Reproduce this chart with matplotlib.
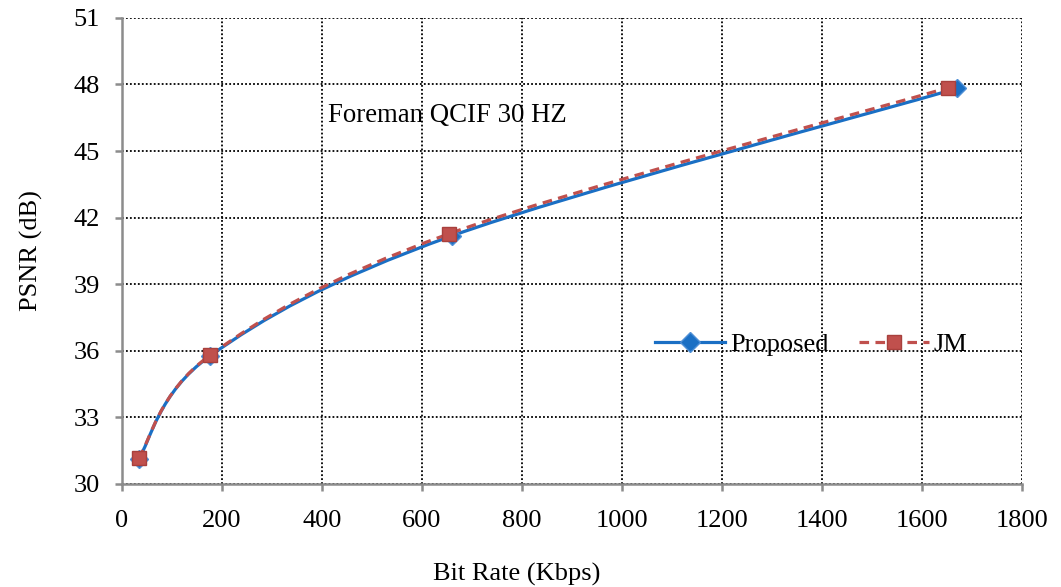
import matplotlib
matplotlib.use("Agg")
import matplotlib.pyplot as plt
from matplotlib.path import Path
from matplotlib.patches import PathPatch
from matplotlib.lines import Line2D
import numpy as np

plt.rcParams['font.family'] = ['Liberation Serif', 'DejaVu Serif']

# Data
proposed_rate = [33, 176, 660, 1670]
proposed_psnr = [31.12, 35.77, 41.18, 47.82]
jm_rate = [33, 176, 655, 1652]
jm_psnr = [31.15, 35.80, 41.28, 47.85]

xticks = [0, 200, 400, 600, 800, 1000, 1200, 1400, 1600, 1800]
yticks = [30, 33, 36, 39, 42, 45, 48, 51]
title_text = "Foreman QCIF 30 HZ"
xlabel = "Bit Rate (Kbps)"
ylabel = "PSNR (dB)"

BLUE = "#1A6FC4"
RED = "#C0504D"
FS = 19


def smooth_path(xs, ys):
    """Excel-style smoothed line as cubic Bezier path (library draws curve)."""
    P = np.column_stack([xs, ys]).astype(float)
    n = len(P)
    verts = [P[0]]
    codes = [Path.MOVETO]
    for i in range(n - 1):
        p0 = P[i - 1] if i > 0 else P[i]
        p1 = P[i]
        p2 = P[i + 1]
        p3 = P[i + 2] if i + 2 < n else P[i + 1]
        c1 = p1 + (p2 - p0) / 6.0
        c2 = p2 - (p3 - p1) / 6.0
        verts += [c1, c2, p2]
        codes += [Path.CURVE4] * 3
    return Path(verts, codes)


fig = plt.figure(figsize=(10.61, 5.87), dpi=100)
ax = fig.add_axes([0.115, 0.1755, 0.848, 0.794])

ax.set_xlim(0, 1800)
ax.set_ylim(30, 51)
ax.set_xticks(xticks)
ax.set_yticks(yticks)

ax.grid(True, color="black", linestyle=(0, (1, 1.2)), linewidth=1.3)
ax.set_axisbelow(True)

for s in ["top", "right"]:
    ax.spines[s].set_visible(False)
for s in ["left", "bottom"]:
    ax.spines[s].set_color("#8C8C8C")
    ax.spines[s].set_linewidth(1.8)

ax.tick_params(axis="both", direction="out", length=5, width=1.8,
               color="#8C8C8C", labelsize=FS)
ax.tick_params(axis="y", pad=11)
ax.tick_params(axis="x", pad=14)

# Proposed line
pp = PathPatch(smooth_path(proposed_rate, proposed_psnr), facecolor="none",
               edgecolor=BLUE, linewidth=2.3, zorder=3, capstyle="butt")
ax.add_patch(pp)
ax.plot(proposed_rate, proposed_psnr, linestyle="none", marker="D",
        markersize=9, markerfacecolor=BLUE, markeredgecolor="#4F8FD6",
        markeredgewidth=1, zorder=4)

# JM line
pj = PathPatch(smooth_path(jm_rate, jm_psnr), facecolor="none",
               edgecolor=RED, linewidth=2.3, linestyle=(0, (3, 2)), zorder=5)
ax.add_patch(pj)
ax.plot(jm_rate, jm_psnr, linestyle="none", marker="s",
        markersize=10, markerfacecolor=RED, markeredgecolor="#A8403D",
        markeredgewidth=1, zorder=6)

ax.text(412, 46.31, title_text, fontsize=FS + 0.3, va="baseline", ha="left")

ax.set_xlabel(xlabel, fontsize=FS, labelpad=21)
ax.xaxis.set_label_coords(0.439, -0.17)
ax.set_ylabel(ylabel, fontsize=FS, labelpad=22)

handles = [
    Line2D([0], [0], color=BLUE, linewidth=2.3, marker="D", markersize=10,
           markerfacecolor=BLUE, markeredgecolor="#4F8FD6"),
    Line2D([0], [0], color=RED, linewidth=2.3, linestyle=(0, (3, 2)),
           marker="s", markersize=10, markerfacecolor=RED,
           markeredgecolor="#A8403D"),
]
ax.legend(handles, ["Proposed", "JM"], loc="center left",
          bbox_to_anchor=(0.592, 0.30), ncol=2, frameon=False,
          fontsize=FS, handlelength=2.65, handletextpad=0.2,
          columnspacing=1.15, borderaxespad=0, borderpad=0)

fig.savefig("out.png", dpi=100)
